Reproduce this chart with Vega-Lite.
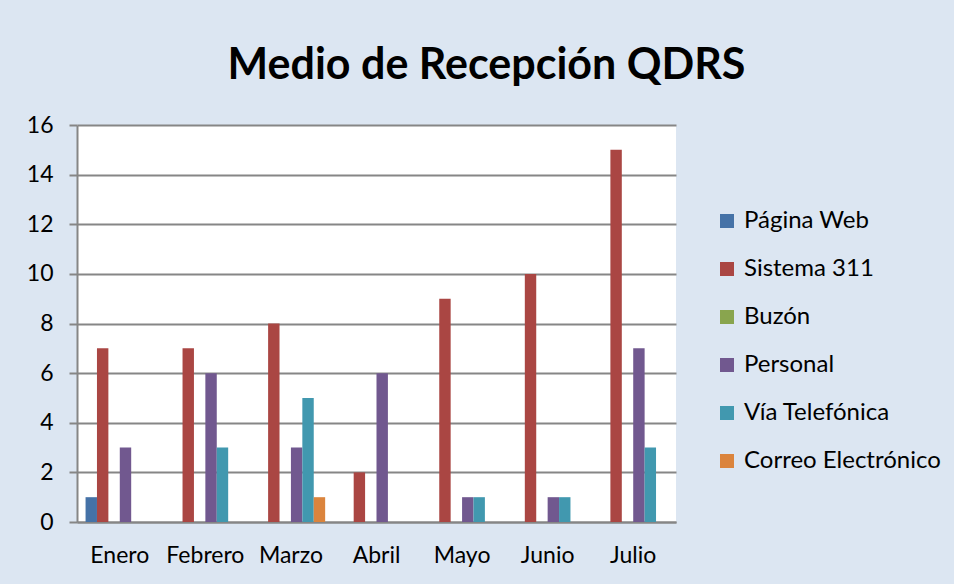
{
  "$schema": "https://vega.github.io/schema/vega-lite/v6.json",
  "autosize": "none",
  "width": 599,
  "height": 397,
  "padding": {"left": 77, "top": 125, "right": 278, "bottom": 62},
  "background": "#dce6f2",
  "title": {
    "text": "Medio de Recepción QDRS",
    "font": "Lato",
    "fontSize": 43,
    "fontWeight": "bold",
    "color": "#000000",
    "anchor": "middle",
    "frame": "group",
    "dx": 110,
    "offset": 26
  },
  "data": {
    "values": [
      {"mes": "Enero", "medio": "Página Web", "valor": 1},
      {"mes": "Enero", "medio": "Sistema 311", "valor": 7},
      {"mes": "Enero", "medio": "Buzón", "valor": 0},
      {"mes": "Enero", "medio": "Personal", "valor": 3},
      {"mes": "Enero", "medio": "Vía Telefónica", "valor": 0},
      {"mes": "Enero", "medio": "Correo Electrónico", "valor": 0},
      {"mes": "Febrero", "medio": "Página Web", "valor": 0},
      {"mes": "Febrero", "medio": "Sistema 311", "valor": 7},
      {"mes": "Febrero", "medio": "Buzón", "valor": 0},
      {"mes": "Febrero", "medio": "Personal", "valor": 6},
      {"mes": "Febrero", "medio": "Vía Telefónica", "valor": 3},
      {"mes": "Febrero", "medio": "Correo Electrónico", "valor": 0},
      {"mes": "Marzo", "medio": "Página Web", "valor": 0},
      {"mes": "Marzo", "medio": "Sistema 311", "valor": 8},
      {"mes": "Marzo", "medio": "Buzón", "valor": 0},
      {"mes": "Marzo", "medio": "Personal", "valor": 3},
      {"mes": "Marzo", "medio": "Vía Telefónica", "valor": 5},
      {"mes": "Marzo", "medio": "Correo Electrónico", "valor": 1},
      {"mes": "Abril", "medio": "Página Web", "valor": 0},
      {"mes": "Abril", "medio": "Sistema 311", "valor": 2},
      {"mes": "Abril", "medio": "Buzón", "valor": 0},
      {"mes": "Abril", "medio": "Personal", "valor": 6},
      {"mes": "Abril", "medio": "Vía Telefónica", "valor": 0},
      {"mes": "Abril", "medio": "Correo Electrónico", "valor": 0},
      {"mes": "Mayo", "medio": "Página Web", "valor": 0},
      {"mes": "Mayo", "medio": "Sistema 311", "valor": 9},
      {"mes": "Mayo", "medio": "Buzón", "valor": 0},
      {"mes": "Mayo", "medio": "Personal", "valor": 1},
      {"mes": "Mayo", "medio": "Vía Telefónica", "valor": 1},
      {"mes": "Mayo", "medio": "Correo Electrónico", "valor": 0},
      {"mes": "Junio", "medio": "Página Web", "valor": 0},
      {"mes": "Junio", "medio": "Sistema 311", "valor": 10},
      {"mes": "Junio", "medio": "Buzón", "valor": 0},
      {"mes": "Junio", "medio": "Personal", "valor": 1},
      {"mes": "Junio", "medio": "Vía Telefónica", "valor": 1},
      {"mes": "Junio", "medio": "Correo Electrónico", "valor": 0},
      {"mes": "Julio", "medio": "Página Web", "valor": 0},
      {"mes": "Julio", "medio": "Sistema 311", "valor": 15},
      {"mes": "Julio", "medio": "Buzón", "valor": 0},
      {"mes": "Julio", "medio": "Personal", "valor": 7},
      {"mes": "Julio", "medio": "Vía Telefónica", "valor": 3},
      {"mes": "Julio", "medio": "Correo Electrónico", "valor": 0}
    ]
  },
  "mark": {"type": "bar", "stroke": null},
  "encoding": {
    "x": {
      "field": "mes",
      "type": "nominal",
      "sort": ["Enero", "Febrero", "Marzo", "Abril", "Mayo", "Junio", "Julio"],
      "scale": {"paddingInner": 0.2, "paddingOuter": 0.1},
      "axis": {
        "title": null,
        "labelAngle": 0,
        "labelFont": "Lato",
        "labelFontSize": 23,
        "labelColor": "#000000",
        "labelPadding": 22,
        "ticks": false,
        "domainColor": "#868686",
        "domainWidth": 2,
        "grid": false
      }
    },
    "xOffset": {
      "field": "medio",
      "type": "nominal",
      "sort": ["Página Web", "Sistema 311", "Buzón", "Personal", "Vía Telefónica", "Correo Electrónico"],
      "scale": {"paddingInner": 0, "paddingOuter": 0}
    },
    "y": {
      "field": "valor",
      "type": "quantitative",
      "scale": {"domain": [0, 16], "nice": false},
      "axis": {
        "title": null,
        "values": [0, 2, 4, 6, 8, 10, 12, 14, 16],
        "labelFont": "Lato",
        "labelFontSize": 23,
        "labelColor": "#000000",
        "labelPadding": 16,
        "tickSize": 8,
        "tickColor": "#868686",
        "tickWidth": 2,
        "domainColor": "#868686",
        "domainWidth": 2,
        "grid": true,
        "gridColor": "#868686",
        "gridWidth": 2
      }
    },
    "color": {
      "field": "medio",
      "type": "nominal",
      "sort": ["Página Web", "Sistema 311", "Buzón", "Personal", "Vía Telefónica", "Correo Electrónico"],
      "scale": {
        "domain": ["Página Web", "Sistema 311", "Buzón", "Personal", "Vía Telefónica", "Correo Electrónico"],
        "range": ["#4572a7", "#aa4643", "#89a54e", "#71588f", "#4198af", "#db843d"]
      },
      "legend": {
        "title": null,
        "orient": "none",
        "legendX": 638,
        "legendY": 84,
        "symbolType": "square",
        "symbolSize": 196,
        "symbolStrokeWidth": 0,
        "symbolOpacity": 1,
        "labelFont": "Lato",
        "labelFontSize": 24,
        "labelColor": "#000000",
        "labelOffset": 5,
        "rowPadding": 24,
        "labelLimit": 300
      }
    }
  },
  "config": {
    "view": {"fill": "#ffffff", "stroke": null}
  }
}
